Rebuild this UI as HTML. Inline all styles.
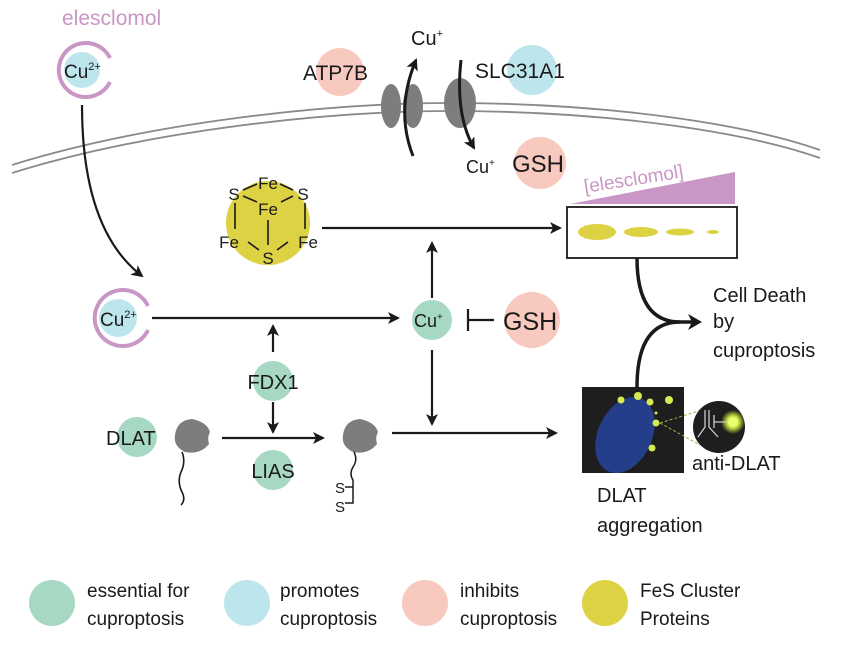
<!DOCTYPE html>
<html><head><meta charset="utf-8"><style>
html,body{margin:0;padding:0;background:#fff;}
svg{display:block;font-family:"Liberation Sans",Arial,sans-serif;}
</style></head><body>
<svg width="850" height="653" viewBox="0 0 850 653" xmlns="http://www.w3.org/2000/svg">
<defs>
<marker id="ah" markerWidth="12" markerHeight="12" refX="10" refY="6" orient="auto" markerUnits="userSpaceOnUse">
<path d="M0,0 L12,6 L0,12 L3,6 z" fill="#1a1a1a"/></marker>
<radialGradient id="glow"><stop offset="0" stop-color="#e8ff70"/><stop offset="0.5" stop-color="#c8e040"/><stop offset="1" stop-color="#c8e040" stop-opacity="0"/></radialGradient>
</defs>
<!-- membrane -->
<path d="M12,165 C150,122 330,103 450,103 C600,103 740,122 820,150" fill="none" stroke="#8a8a8a" stroke-width="1.8"/>
<path d="M12,173 C150,130 330,111 450,111 C600,111 740,130 820,158" fill="none" stroke="#8a8a8a" stroke-width="1.8"/>

<!-- top Cu2+ -->
<text x="62" y="25" font-size="21" fill="#c996c5">elesclomol</text>
<circle cx="82" cy="70" r="18" fill="#bde5ec"/>
<path d="M110,58 A27,27 0 1 0 110,82" fill="none" stroke="#c996c5" stroke-width="4"/>
<text x="64" y="78" font-size="19" fill="#1a1a1a">Cu<tspan font-size="11" dy="-8">2+</tspan></text>
<path d="M82,105 Q82,230 142,276" fill="none" stroke="#1a1a1a" stroke-width="2.2" marker-end="url(#ah)"/>

<!-- ATP7B -->
<circle cx="340" cy="72" r="24" fill="#f7c9bf"/>
<text x="303" y="80" font-size="21" fill="#1a1a1a">ATP7B</text>
<!-- channels -->
<ellipse cx="391" cy="106" rx="10" ry="22" fill="#7d7d7d"/>
<ellipse cx="413" cy="106" rx="10" ry="22" fill="#7d7d7d"/>
<ellipse cx="460" cy="103" rx="16" ry="25" fill="#7d7d7d"/>
<text x="411" y="45" font-size="20" fill="#1a1a1a">Cu<tspan font-size="11" dy="-8">+</tspan></text>
<path d="M413,156 Q395,110 416,60" fill="none" stroke="#1a1a1a" stroke-width="3" marker-end="url(#ah)"/>
<path d="M461,60 Q455,115 474,148" fill="none" stroke="#1a1a1a" stroke-width="3" marker-end="url(#ah)"/>
<circle cx="532" cy="70" r="25" fill="#bde5ec"/>
<text x="475" y="78" font-size="21" fill="#1a1a1a">SLC31A1</text>
<circle cx="540" cy="163" r="26" fill="#f7c9bf"/>
<text x="466" y="173" font-size="18" fill="#1a1a1a">Cu<tspan font-size="10" dy="-7">+</tspan></text>
<text x="512" y="172" font-size="24" fill="#1a1a1a">GSH</text>

<!-- FeS cluster -->
<circle cx="268" cy="223" r="42" fill="#ddd244"/>
<g stroke="#1a1a1a" stroke-width="1.6">
<line x1="243" y1="190" x2="257" y2="184"/><line x1="280" y1="184" x2="293" y2="190"/>
<line x1="243" y1="196" x2="257" y2="202"/><line x1="293" y1="196" x2="281" y2="202"/>
<line x1="235" y1="203" x2="235" y2="229"/><line x1="305" y1="203" x2="305" y2="229"/>
<line x1="268" y1="220" x2="268" y2="245"/>
<line x1="248" y1="242" x2="259" y2="250"/><line x1="288" y1="242" x2="277" y2="250"/>
</g>
<g font-size="17" fill="#1a1a1a" text-anchor="middle">
<text x="268" y="189">Fe</text><text x="234" y="200">S</text><text x="303" y="200">S</text>
<text x="268" y="215">Fe</text><text x="229" y="248">Fe</text><text x="308" y="248">Fe</text>
<text x="268" y="264">S</text></g>
<line x1="322" y1="228" x2="560" y2="228" stroke="#1a1a1a" stroke-width="2.2" marker-end="url(#ah)"/>

<!-- blot -->
<polygon points="570,204 735,172 735,204" fill="#c996c5"/>
<text x="585" y="193" font-size="19" fill="#c996c5" transform="rotate(-9 585 193)">[elesclomol]</text>
<rect x="567" y="207" width="170" height="51" fill="#fff" stroke="#1a1a1a" stroke-width="1.8"/>
<ellipse cx="597" cy="232" rx="19" ry="8" fill="#ddd244"/>
<ellipse cx="641" cy="232" rx="17" ry="5" fill="#ddd244"/>
<ellipse cx="680" cy="232" rx="14" ry="3.5" fill="#ddd244"/>
<ellipse cx="713" cy="232" rx="6" ry="2" fill="#ddd244"/>
<path d="M637,258 Q637,322 680,322 L697,322" fill="none" stroke="#1a1a1a" stroke-width="3.5"/>
<path d="M637,387 Q637,322 680,322" fill="none" stroke="#1a1a1a" stroke-width="3.5"/>
<path d="M688,314 L702,322 L688,330 L692,322 z" fill="#1a1a1a"/>
<text x="713" y="302" font-size="20" fill="#1a1a1a">Cell Death</text>
<text x="713" y="328" font-size="20" fill="#1a1a1a">by</text>
<text x="713" y="357" font-size="20" fill="#1a1a1a">cuproptosis</text>

<!-- mid Cu2+ -->
<circle cx="118" cy="318" r="19" fill="#bde5ec"/>
<path d="M148,306 A28,28 0 1 0 148,330" fill="none" stroke="#c996c5" stroke-width="4"/>
<text x="100" y="326" font-size="19" fill="#1a1a1a">Cu<tspan font-size="11" dy="-8">2+</tspan></text>
<line x1="152" y1="318" x2="398" y2="318" stroke="#1a1a1a" stroke-width="2.2" marker-end="url(#ah)"/>
<circle cx="432" cy="320" r="20" fill="#a6d8c4"/>
<text x="414" y="327" font-size="18" fill="#1a1a1a">Cu<tspan font-size="10" dy="-7">+</tspan></text>
<line x1="432" y1="298" x2="432" y2="243" stroke="#1a1a1a" stroke-width="2.2" marker-end="url(#ah)"/>
<line x1="432" y1="350" x2="432" y2="424" stroke="#1a1a1a" stroke-width="2.2" marker-end="url(#ah)"/>
<line x1="468" y1="320" x2="494" y2="320" stroke="#1a1a1a" stroke-width="2.2"/>
<line x1="468" y1="309" x2="468" y2="331" stroke="#1a1a1a" stroke-width="2.2"/>
<circle cx="532" cy="320" r="28" fill="#f7c9bf"/>
<text x="503" y="330" font-size="25" fill="#1a1a1a">GSH</text>

<!-- FDX1 -->
<circle cx="273" cy="381" r="20" fill="#a6d8c4"/>
<text x="273" y="389" font-size="20" fill="#1a1a1a" text-anchor="middle">FDX1</text>
<line x1="273" y1="352" x2="273" y2="326" stroke="#1a1a1a" stroke-width="2.2" marker-end="url(#ah)"/>
<line x1="273" y1="402" x2="273" y2="432" stroke="#1a1a1a" stroke-width="2.2" marker-end="url(#ah)"/>
<circle cx="137" cy="437" r="20" fill="#a6d8c4"/>
<text x="106" y="445" font-size="20" fill="#1a1a1a">DLAT</text>
<path d="M175,435 Q177,420 192,419 Q207,422 210,432 Q207,437 209,444 Q200,455 185,452 Q173,446 175,435z" fill="#7d7d7d"/>
<path d="M182,452 Q186,462 181,472 Q177,482 182,492 Q186,500 181,505" fill="none" stroke="#1a1a1a" stroke-width="1.6"/>
<line x1="222" y1="438" x2="323" y2="438" stroke="#1a1a1a" stroke-width="2.2" marker-end="url(#ah)"/>
<circle cx="273" cy="470" r="20" fill="#a6d8c4"/>
<text x="273" y="478" font-size="20" fill="#1a1a1a" text-anchor="middle">LIAS</text>
<path d="M343,435 Q345,420 360,419 Q375,422 378,432 Q375,437 377,444 Q368,455 353,452 Q341,446 343,435z" fill="#7d7d7d"/>
<path d="M354,452 Q358,460 353,467 Q349,474 353,480 L353,503 L345,503 M353,487 L345,487" fill="none" stroke="#1a1a1a" stroke-width="1.5"/>
<text x="335" y="493" font-size="15" fill="#1a1a1a">S</text>
<text x="335" y="512" font-size="15" fill="#1a1a1a">S</text>
<line x1="392" y1="433" x2="556" y2="433" stroke="#1a1a1a" stroke-width="2.2" marker-end="url(#ah)"/>

<!-- DLAT aggregation -->
<rect x="582" y="387" width="102" height="86" fill="#1e1e1e"/>
<ellipse cx="625" cy="435" rx="27" ry="40" transform="rotate(25 625 435)" fill="#253e8a"/>
<g fill="#d4ea50">
<circle cx="621" cy="400" r="3.5"/><circle cx="638" cy="396" r="4"/><circle cx="650" cy="402" r="3.5"/>
<circle cx="669" cy="400" r="4"/><circle cx="656" cy="423" r="3.5"/><circle cx="652" cy="448" r="3.5"/>
<circle cx="656" cy="413" r="1.5"/></g>
<line x1="660" y1="423" x2="702" y2="410" stroke="#a0b040" stroke-width="1" stroke-dasharray="3,2"/>
<line x1="660" y1="423" x2="700" y2="445" stroke="#a0b040" stroke-width="1" stroke-dasharray="3,2"/>
<circle cx="719" cy="427" r="26" fill="#1e1e1e"/>
<circle cx="733" cy="422" r="12" fill="url(#glow)"/>
<circle cx="733" cy="422" r="5" fill="#e8ff70"/>
<g stroke="#cccccc" stroke-width="1.3" fill="none">
<path d="M705,410 L705,427 L698,437"/><path d="M709,410 L709,427 L718,437"/><path d="M714,415 L714,428 M714,422 L727,422"/></g>
<text x="692" y="470" font-size="20" fill="#1a1a1a">anti-DLAT</text>
<text x="597" y="502" font-size="20" fill="#1a1a1a">DLAT</text>
<text x="597" y="532" font-size="20" fill="#1a1a1a">aggregation</text>

<!-- legend -->
<circle cx="52" cy="603" r="23" fill="#a6d8c4"/>
<circle cx="247" cy="603" r="23" fill="#bde5ec"/>
<circle cx="425" cy="603" r="23" fill="#f7c9bf"/>
<circle cx="605" cy="603" r="23" fill="#ddd244"/>
<g font-size="19" fill="#1a1a1a">
<text x="87" y="597">essential for</text><text x="87" y="625">cuproptosis</text>
<text x="280" y="597">promotes</text><text x="280" y="625">cuproptosis</text>
<text x="460" y="597">inhibits</text><text x="460" y="625">cuproptosis</text>
<text x="640" y="597">FeS Cluster</text><text x="640" y="625">Proteins</text>
</g>
</svg>
</body></html>
